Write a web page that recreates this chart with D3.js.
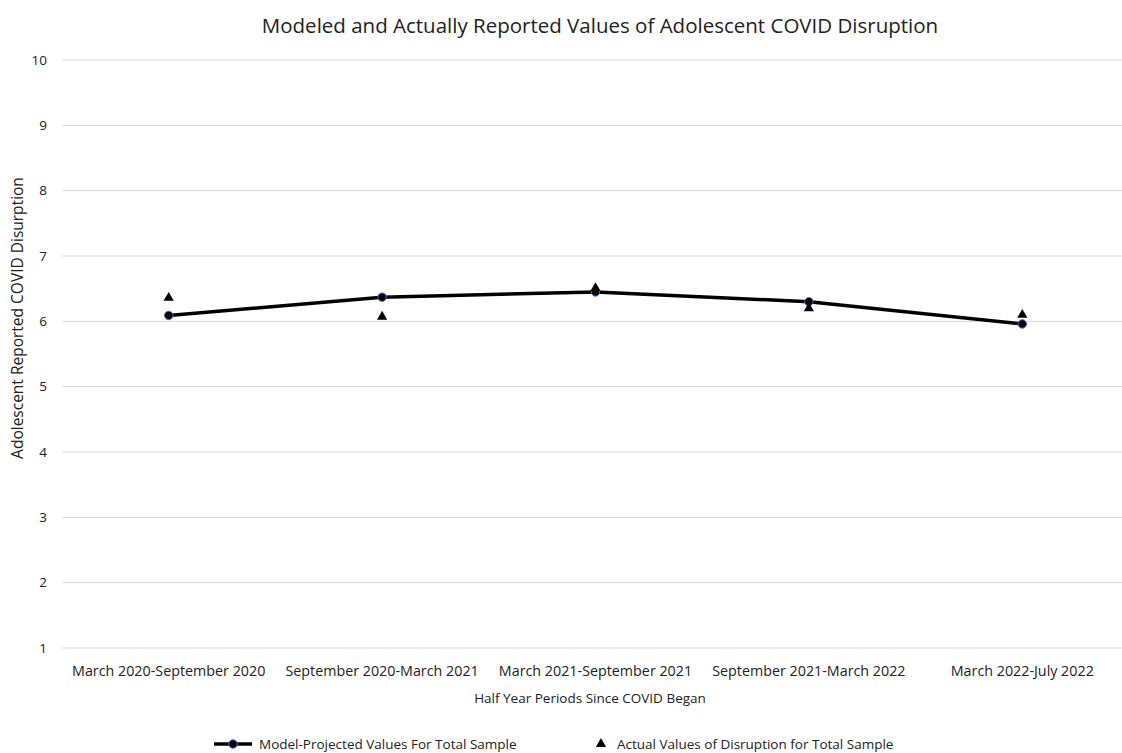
<!DOCTYPE html>
<html>
<head>
<meta charset="utf-8">
<script src="https://cdn.jsdelivr.net/npm/d3@7"></script>
<style>
  body { margin: 0; background: #fff; }
  svg { font-family: "Open Sans", Lato, sans-serif; }
</style>
</head>
<body>
<div id="chart"></div>
<script>
const periods = [
  "March 2020-September 2020",
  "September 2020-March 2021",
  "March 2021-September 2021",
  "September 2021-March 2022",
  "March 2022-July 2022"
];
const modeled = [6.09, 6.37, 6.45, 6.30, 5.96];
const actual = [6.36, 6.07, 6.51, 6.20, 6.10];
const yTicks = [1, 2, 3, 4, 5, 6, 7, 8, 9, 10];

const W = 1122, H = 753;
const margin = { top: 60, right: -7, bottom: 105, left: 62 };

const svg = d3.select("#chart").append("svg")
  .attr("width", W)
  .attr("height", H);

const x = d3.scaleBand()
  .domain(periods)
  .range([margin.left, W - margin.right]);

const y = d3.scaleLinear()
  .domain([1, 10])
  .range([H - margin.bottom, margin.top]);

// gridlines
svg.append("g")
  .selectAll("line")
  .data(yTicks)
  .join("line")
  .attr("x1", margin.left)
  .attr("x2", W)
  .attr("y1", d => y(d))
  .attr("y2", d => y(d))
  .attr("stroke", "#d9d9d9")
  .attr("stroke-width", 1);

// y tick labels
svg.append("g")
  .selectAll("text")
  .data(yTicks)
  .join("text")
  .attr("x", 47)
  .attr("y", d => y(d))
  .attr("dy", "0.35em")
  .attr("text-anchor", "end")
  .attr("font-size", 13.5)
  .attr("fill", "#222")
  .text(d => d);

// x tick labels
svg.append("g")
  .selectAll("text")
  .data(periods)
  .join("text")
  .attr("x", d => x(d) + x.bandwidth() / 2)
  .attr("y", 676)
  .attr("text-anchor", "middle")
  .attr("font-size", 14.3)
  .attr("fill", "#222")
  .text(d => d);

// titles
svg.append("text")
  .attr("x", 600)
  .attr("y", 33)
  .attr("text-anchor", "middle")
  .attr("font-size", 20.5)
  .attr("fill", "#222")
  .text("Modeled and Actually Reported Values of Adolescent COVID Disruption");

svg.append("text")
  .attr("x", 590)
  .attr("y", 703)
  .attr("text-anchor", "middle")
  .attr("font-size", 13.5)
  .attr("fill", "#222")
  .text("Half Year Periods Since COVID Began");

svg.append("text")
  .attr("transform", "translate(23,318) rotate(-90)")
  .attr("text-anchor", "middle")
  .attr("font-size", 15.5)
  .attr("fill", "#222")
  .text("Adolescent Reported COVID Disurption");

const cx = (d, i) => x(periods[i]) + x.bandwidth() / 2;

// model line
const line = d3.line()
  .x((d, i) => cx(d, i))
  .y(d => y(d));

svg.append("path")
  .datum(modeled)
  .attr("d", line)
  .attr("fill", "none")
  .attr("stroke", "#000")
  .attr("stroke-width", 3.5)
  .attr("stroke-linejoin", "round");

svg.append("g")
  .selectAll("circle")
  .data(modeled)
  .join("circle")
  .attr("cx", cx)
  .attr("cy", d => y(d))
  .attr("r", 4.2)
  .attr("fill", "#000")
  .attr("stroke", "#4472c4")
  .attr("stroke-width", 1);

// actual triangles
const tri = d3.symbol().type(d3.symbolTriangle).size(45);
svg.append("g")
  .selectAll("path")
  .data(actual)
  .join("path")
  .attr("d", tri)
  .attr("transform", (d, i) => `translate(${cx(d, i)},${y(d)})`)
  .attr("fill", "#000");

// legend
const lg = svg.append("g").attr("transform", "translate(0,744)");
lg.append("line")
  .attr("x1", 214).attr("x2", 252)
  .attr("y1", 0).attr("y2", 0)
  .attr("stroke", "#000").attr("stroke-width", 3.5);
lg.append("circle")
  .attr("cx", 233).attr("cy", 0).attr("r", 4.2)
  .attr("fill", "#000").attr("stroke", "#4472c4").attr("stroke-width", 1);
lg.append("text")
  .attr("x", 259).attr("y", 0).attr("dy", "0.35em")
  .attr("font-size", 13.5).attr("fill", "#222")
  .text("Model-Projected Values For Total Sample");
lg.append("path")
  .attr("d", tri)
  .attr("transform", "translate(601,0)")
  .attr("fill", "#000");
lg.append("text")
  .attr("x", 617).attr("y", 0).attr("dy", "0.35em")
  .attr("font-size", 13.5).attr("fill", "#222")
  .text("Actual Values of Disruption for Total Sample");
</script>
</body>
</html>
